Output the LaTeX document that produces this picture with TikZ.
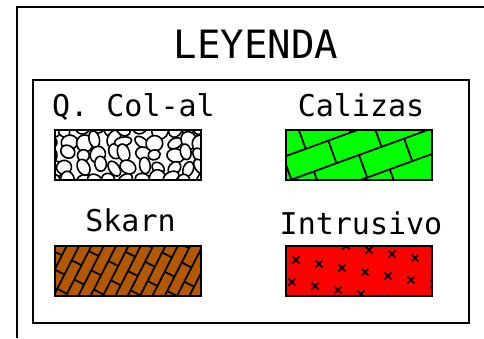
\documentclass[tikz,border=0pt]{standalone}
\usepackage{fontspec}
\newfontfamily\cadfont{DejaVu Sans Mono}
\usepackage{tikz}
\usetikzlibrary{positioning}
\definecolor{caliza}{RGB}{0,255,0}
\definecolor{skarn}{RGB}{178,89,0}
\definecolor{intrusivo}{RGB}{255,0,0}
% brick fill: angle, row height, brick length
\newcommand{\ladrillos}[3]{%
  \begin{scope}[rotate=#1, line width=1.8pt]
    \foreach \r in {-8,...,8}{
      \draw (-160,\r*#2) -- (160,\r*#2);
      \foreach \k in {-8,...,8}
        \draw ({\k*#3+mod(abs(\r),2)*#3/2},\r*#2) -- ++(0,#2);
    }
  \end{scope}}
\newcommand{\cantos}{%
  \begin{scope}[line width=1.6pt]
    \pgfmathsetseed{11}
    \foreach \i in {0,...,10}
      \foreach \j in {0,...,4}{
        \pgfmathsetmacro{\cx}{-76+\i*15+4*rand}
        \pgfmathsetmacro{\cy}{-26+\j*12.5+3*rand}
        \pgfmathsetmacro{\rx}{5+4*rnd}
        \pgfmathsetmacro{\ry}{4.5+5*rnd}
        \pgfmathsetmacro{\ang}{40*rand}
        \draw[fill=white, rotate around={\ang:(\cx,\cy)}] (\cx,\cy) ellipse[x radius=\rx, y radius=\ry];
      }
  \end{scope}}
\newcommand{\cruces}{%
  \begin{scope}[line width=1.7pt]
    \foreach \i in {-5,...,5}
      \foreach \j in {-2,...,2}
        \draw ({-17+23*\i-4*\j},{-3+4*\i+22*\j}) ++(-3.5,-3.5) -- ++(7,7) ++(-7,0) -- ++(7,-7);
  \end{scope}}
% swatch: name, colour, fill pattern, x, y
\newcommand{\muestra}[5]{%
  \node[swatch, fill=#2] (#1) at (#4,#5) {};
  \begin{scope}
    \clip (#1.south west) rectangle (#1.north east);
    \begin{scope}[shift={(#1.center)}] #3 \end{scope}
  \end{scope}
  \draw[line width=1.9pt] (#1.south west) rectangle (#1.north east);}

\begin{document}
\begin{tikzpicture}[x=1pt, y=-1pt,
  frame/.style={draw, line width=1.8pt},
  swatch/.style={minimum width=146pt, minimum height=50pt, inner sep=0pt},
  lbl/.style={font=\cadfont\fontsize{30}{36}\selectfont, anchor=base, inner sep=0pt}
]
\useasboundingbox (0,0) rectangle (484,338);
\fill[white] (0,0) rectangle (484,338);
\draw[frame] (17,338) -- (17,7) -- (484,7);
\node[frame, minimum width=436pt, minimum height=243pt] (recuadro) at (251,201.5) {};
\node[lbl, font=\cadfont\fontsize{39}{46}\selectfont] (titulo) at (256,58) {LEYENDA};

\node[lbl] (tcoluvial) at (133.5,116) {Q. Col-al};
\node[lbl] (tcalizas) at (361,116) {Calizas};
\node[lbl] (tskarn) at (130.5,231) {Skarn};
\node[lbl] (tintrusivo) at (361,234) {Intrusivo};

\muestra{coluvial}{white}{\cantos}{128}{155}
\muestra{calizas}{caliza}{\ladrillos{20}{24}{48}}{359}{155}
\muestra{skarn}{skarn}{\ladrillos{63}{11}{32}}{128}{271}
\muestra{intrusivo}{intrusivo}{\cruces}{359}{271}
\end{tikzpicture}
\end{document}
